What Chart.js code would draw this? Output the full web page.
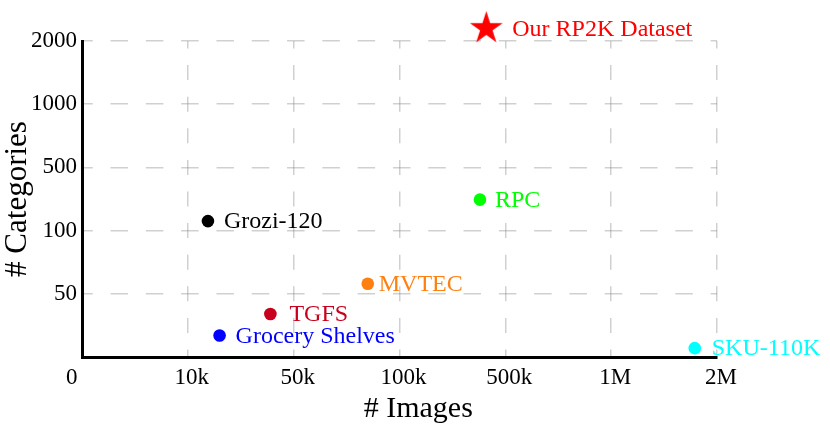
<!DOCTYPE html>
<html>
<head>
<meta charset="utf-8">
<title># Images vs # Categories</title>
<script src="https://cdn.jsdelivr.net/npm/chart.js@4.4.1/dist/chart.umd.min.js"></script>
<style>
  body { margin: 0; background: #fff; }
  canvas { display: block; }
</style>
</head>
<body>
<canvas id="datasetChart" width="830" height="424"></canvas>
<script>
// tick labels, one per grid step (axes are not linear in the real values)
const imageTicks = ['0', '10k', '50k', '100k', '500k', '1M', '2M'];
const categoryTicks = ['', '50', '100', '500', '1000', '2000'];

// datasets, positions in tick-step units
const names = ['Grozi-120', 'TGFS', 'Grocery Shelves', 'MVTEC', 'SKU-110K', 'RPC', 'Our RP2K Dataset'];
const imagesPos = [1.19, 1.78, 1.30, 2.70, 5.79, 3.76, 3.82];
const categoriesPos = [2.15, 0.68, 0.34, 1.16, 0.14, 2.49, 5.20];

const colors = ['#000000', '#c8001e', '#0000ff', '#ff8010', '#00ffff', '#00ff00', '#ff0000'];
const labelGap = [16, 19, 16, 11, 17, 15, 26];

const serif = '"Liberation Serif", "DejaVu Serif", serif';

// filled five point star for our dataset
function makeStar(color, outer) {
  const size = Math.ceil(outer * 2) + 2;
  const c = document.createElement('canvas');
  c.width = size;
  c.height = size;
  const g = c.getContext('2d');
  const inner = outer * 0.382;
  g.beginPath();
  for (let i = 0; i < 10; i++) {
    const r = i % 2 === 0 ? outer : inner;
    const a = -Math.PI / 2 + i * Math.PI / 5;
    const px = size / 2 + r * Math.cos(a);
    const py = size / 2 + r * Math.sin(a);
    if (i === 0) g.moveTo(px, py); else g.lineTo(px, py);
  }
  g.closePath();
  g.fillStyle = color;
  g.fill();
  return c;
}

const star = makeStar('#ff0000', 17.2);

const pointLabels = {
  id: 'pointLabels',
  afterDatasetsDraw(chart) {
    const ctx = chart.ctx;
    const meta = chart.getDatasetMeta(0);
    ctx.save();
    ctx.font = '24px ' + serif;
    ctx.textBaseline = 'middle';
    ctx.textAlign = 'left';
    meta.data.forEach((pt, i) => {
      ctx.fillStyle = colors[i];
      ctx.fillText(names[i], pt.x + labelGap[i], pt.y + 1);
    });
    ctx.restore();
  }
};

const ctx = document.getElementById('datasetChart').getContext('2d');
const myChart = new Chart(ctx, {
  type: 'scatter',
  data: {
    datasets: [{
      label: 'datasets',
      data: names.map((n, i) => ({ x: imagesPos[i], y: categoriesPos[i] })),
      backgroundColor: colors,
      borderWidth: 0,
      // the star sits above the plot area, a big radius keeps it from being culled
      pointRadius: names.map((n, i) => i === names.length - 1 ? 20 : 6.3),
      pointStyle: names.map((n, i) => i === names.length - 1 ? star : 'circle'),
      clip: false
    }]
  },
  options: {
    responsive: false,
    animation: false,
    layout: { padding: { top: 41, right: 113, left: 0, bottom: 0 } },
    plugins: {
      legend: { display: false },
      tooltip: { enabled: false }
    },
    scales: {
      x: {
        type: 'linear',
        min: 0,
        max: imageTicks.length - 1,
        afterFit: (scale) => { scale.height = 67; },
        border: { display: true, color: '#000', width: 3, dash: [15, 16.6], dashOffset: 7.5 },
        grid: {
          color: 'rgba(120,120,120,0.35)',
          lineWidth: 1.5,
          drawTicks: false
        },
        ticks: {
          stepSize: 1,
          padding: 7,
          labelOffset: 4,
          color: '#000',
          font: { family: serif, size: 23 },
          // nudge the lone "0" left of the corner like the original
          callback: (v) => v === 0 ? imageTicks[0] + '\u00a0\u00a0\u00a0\u00a0\u00a0' : imageTicks[v]
        },
        title: {
          display: true,
          text: '\u00a0\u00a0\u00a0\u00a0\u00a0# Images',
          color: '#000',
          font: { family: serif, size: 30, lineHeight: 1 },
          padding: { top: 1, bottom: 0 }
        }
      },
      y: {
        type: 'linear',
        min: 0,
        max: categoryTicks.length - 1,
        afterFit: (scale) => { scale.width = 82; },
        border: { display: true, color: '#000', width: 3, dash: [17.5, 17.8], dashOffset: 8.75 },
        grid: {
          color: 'rgba(120,120,120,0.35)',
          lineWidth: 1.5,
          drawTicks: false
        },
        ticks: {
          stepSize: 1,
          padding: 5,
          color: '#000',
          font: { family: serif, size: 23 },
          callback: (v) => categoryTicks[v]
        },
        title: {
          display: true,
          text: '# Categories',
          color: '#000',
          font: { family: serif, size: 31, lineHeight: 1 },
          padding: { top: 2, bottom: 0 }
        }
      }
    }
  },
  plugins: [pointLabels]
});
</script>
</body>
</html>
